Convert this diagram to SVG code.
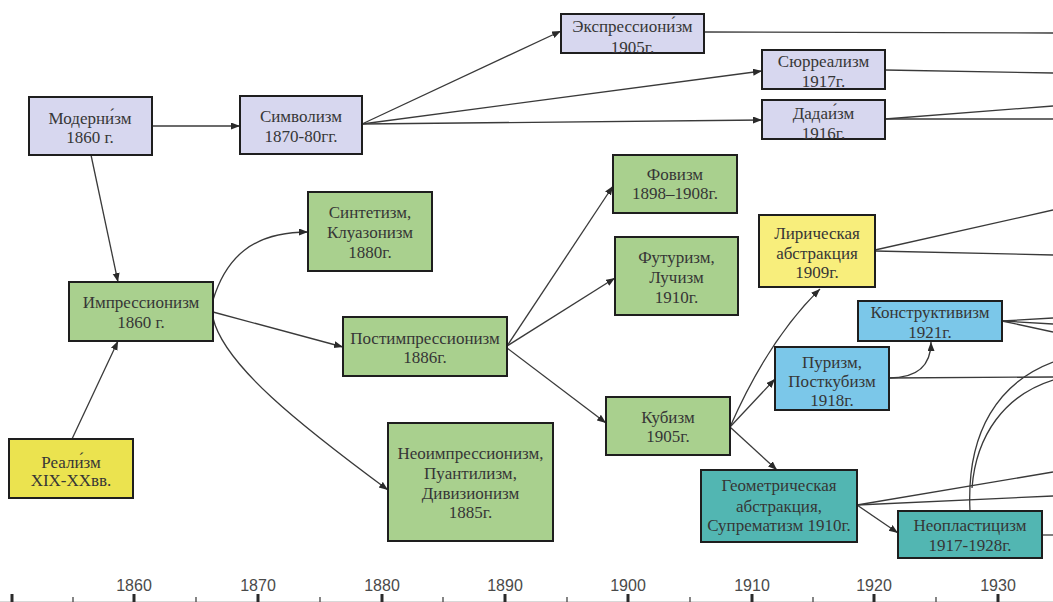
<svg xmlns="http://www.w3.org/2000/svg" width="1053" height="602" viewBox="0 0 1053 602">
<defs>
<marker id="ah" markerUnits="userSpaceOnUse" markerWidth="10" markerHeight="8" refX="9" refY="3.5" orient="auto">
<path d="M0,0 L9,3.5 L0,7 z" fill="#2a2a2a"/>
</marker>
<style>
.box{stroke:#1e1e1e;stroke-width:2}
.lav{fill:#d7d7ef}
.grn{fill:#a9d08e}
.yel{fill:#ebe34f}
.lyr{fill:#f8ee7c}
.blu{fill:#7bc7e9}
.tea{fill:#52b6b2}
text{font-family:"Liberation Serif","Times New Roman",serif;font-size:17px;fill:#363636;text-anchor:middle}
.c{fill:none;stroke:#3a3a3a;stroke-width:1.3}
.a{marker-end:url(#ah)}
.ax text{font-family:"Liberation Sans",Arial,sans-serif;font-size:16px;fill:#4a4a4a}
.maj{stroke:#2a2a2a;stroke-width:3}
.min{stroke:#444;stroke-width:1.3}
</style>
</defs>
<rect width="1053" height="602" fill="#ffffff"/>

<g id="connectors">
<line class="c a" x1="152" y1="126" x2="240" y2="126"/>
<line class="c a" x1="91" y1="155" x2="118" y2="282"/>
<line class="c a" x1="72" y1="439" x2="118" y2="341"/>
<line class="c a" x1="362" y1="124" x2="561" y2="31"/>
<line class="c a" x1="362" y1="124" x2="762" y2="71"/>
<line class="c a" x1="362" y1="124" x2="762" y2="120"/>
<line class="c" x1="704" y1="32" x2="1053" y2="33"/>
<line class="c" x1="885" y1="70" x2="1053" y2="73"/>
<line class="c" x1="885" y1="119" x2="1053" y2="106"/>
<line class="c" x1="885" y1="119" x2="1053" y2="119"/>
<path class="c a" d="M213,300 C226,258 252,232 308,232"/>
<line class="c a" x1="213" y1="312" x2="343" y2="347"/>
<path class="c a" d="M213,318 C224,365 300,425 388,490"/>
<line class="c a" x1="507" y1="346" x2="613" y2="186"/>
<line class="c a" x1="507" y1="346" x2="615" y2="278"/>
<line class="c a" x1="507" y1="348" x2="606" y2="423"/>
<path class="c a" d="M730,427 Q768,340 820,289"/>
<line class="c a" x1="730" y1="427" x2="775" y2="379"/>
<line class="c a" x1="730" y1="427" x2="777" y2="470"/>
<path class="c a" d="M889,378 C922,378 931,362 931,342"/>
<line class="c" x1="889" y1="378" x2="1053" y2="377"/>
<line class="c" x1="1002" y1="321" x2="1053" y2="318"/>
<line class="c" x1="1002" y1="321" x2="1053" y2="324"/>
<line class="c" x1="1002" y1="321" x2="1053" y2="332"/>
<line class="c" x1="875" y1="250" x2="1053" y2="210"/>
<line class="c" x1="875" y1="251" x2="1053" y2="255"/>
<line class="c a" x1="857" y1="505" x2="898" y2="533"/>
<line class="c" x1="857" y1="505" x2="1053" y2="472"/>
<line class="c" x1="857" y1="505" x2="1053" y2="496"/>
<line class="c" x1="1042" y1="535" x2="1053" y2="535"/>
<path class="c" d="M970,511 C966,430 1000,382 1053,362"/>
<path class="c" d="M972,488 C976,435 1005,395 1053,380"/>
</g>

<g id="modernism"><rect class="box lav" x="29" y="97" width="123" height="58"/><text x="90" y="123.5">Модерни́зм</text><text x="90" y="143">1860 г.</text></g>
<g id="symbolism"><rect class="box lav" x="240" y="96" width="122" height="58"/><text x="301" y="122">Символизм</text><text x="301" y="142">1870-80гг.</text></g>
<g id="expressionism"><rect class="box lav" x="561" y="14" width="143" height="39"/><text x="632.5" y="32">Экспрессиони́зм</text><text x="632.5" y="53">1905г.</text></g>
<g id="surrealism"><rect class="box lav" x="762" y="50" width="123" height="39"/><text x="823.5" y="67">Сюрреализм</text><text x="823.5" y="87">1917г.</text></g>
<g id="dadaism"><rect class="box lav" x="762" y="100" width="123" height="39"/><text x="823.5" y="119">Дадаи́зм</text><text x="823.5" y="139">1916г.</text></g>

<g id="synthetism"><rect class="box grn" x="308" y="192" width="124" height="79"/><text x="370" y="218">Синтетизм,</text><text x="370" y="238">Клуазонизм</text><text x="370" y="258">1880г.</text></g>
<g id="fauvism"><rect class="box grn" x="613" y="155" width="124" height="58"/><text x="675" y="180">Фовизм</text><text x="675" y="199">1898–1908г.</text></g>
<g id="futurism"><rect class="box grn" x="615" y="237" width="123" height="78"/><text x="676.5" y="263">Футуризм,</text><text x="676.5" y="283">Лучизм</text><text x="676.5" y="303">1910г.</text></g>
<g id="postimpressionism"><rect class="box grn" x="343" y="317" width="164" height="59"/><text x="425" y="344">Постимпрессионизм</text><text x="425" y="363">1886г.</text></g>
<g id="cubism"><rect class="box grn" x="606" y="397" width="124" height="58"/><text x="668" y="423">Кубизм</text><text x="668" y="442">1905г.</text></g>
<g id="neoimpressionism"><rect class="box grn" x="388" y="423" width="165" height="118"/><text x="470.5" y="459">Неоимпрессионизм,</text><text x="470.5" y="479">Пуантилизм,</text><text x="470.5" y="499">Дивизионизм</text><text x="470.5" y="518">1885г.</text></g>
<g id="impressionism"><rect class="box grn" x="69" y="282" width="144" height="59"/><text x="141" y="308">Импрессионизм</text><text x="141" y="328">1860 г.</text></g>

<g id="realism"><rect class="box yel" x="9" y="439" width="124" height="59"/><text x="71" y="467.5">Реали́зм</text><text x="71" y="486">XIX-XXвв.</text></g>
<g id="lyrical-abstraction"><rect class="box lyr" x="759" y="215" width="116" height="72"/><text x="817" y="239">Лирическая</text><text x="817" y="259">абстракция</text><text x="817" y="278">1909г.</text></g>

<g id="constructivism"><rect class="box blu" x="858" y="301" width="144" height="40"/><text x="930" y="318">Конструктивизм</text><text x="930" y="338">1921г.</text></g>
<g id="purism"><rect class="box blu" x="775" y="347" width="114" height="63"/><text x="832" y="368">Пуризм,</text><text x="832" y="387">Посткубизм</text><text x="832" y="406">1918г.</text></g>

<g id="geometric-abstraction"><rect class="box tea" x="701" y="470" width="156" height="72"/><text x="779" y="491">Геометрическая</text><text x="779" y="512">абстракция,</text><text x="779" y="531">Супрематизм 1910г.</text></g>
<g id="neoplasticism"><rect class="box tea" x="898" y="511" width="144" height="47"/><text x="970" y="531">Неопластицизм</text><text x="970" y="551">1917-1928г.</text></g>

<g id="timeline" class="ax">
<line x1="0" y1="601.5" x2="1053" y2="601.5" stroke="#d8d8d8" stroke-width="1"/>
<line class="maj" x1="12" y1="594" x2="12" y2="602"/>
<line class="min" x1="73" y1="597" x2="73" y2="602"/>
<line class="maj" x1="134" y1="594" x2="134" y2="602"/>
<line class="min" x1="196" y1="597" x2="196" y2="602"/>
<line class="maj" x1="258" y1="594" x2="258" y2="602"/>
<line class="min" x1="320" y1="597" x2="320" y2="602"/>
<line class="maj" x1="382" y1="594" x2="382" y2="602"/>
<line class="min" x1="443" y1="597" x2="443" y2="602"/>
<line class="maj" x1="505" y1="594" x2="505" y2="602"/>
<line class="min" x1="567" y1="597" x2="567" y2="602"/>
<line class="maj" x1="628" y1="594" x2="628" y2="602"/>
<line class="min" x1="690" y1="597" x2="690" y2="602"/>
<line class="maj" x1="752" y1="594" x2="752" y2="602"/>
<line class="min" x1="813" y1="597" x2="813" y2="602"/>
<line class="maj" x1="874" y1="594" x2="874" y2="602"/>
<line class="min" x1="936" y1="597" x2="936" y2="602"/>
<line class="maj" x1="998" y1="594" x2="998" y2="602"/>
<text x="134" y="591">1860</text>
<text x="258" y="591">1870</text>
<text x="382" y="591">1880</text>
<text x="505" y="591">1890</text>
<text x="628" y="591">1900</text>
<text x="752" y="591">1910</text>
<text x="874" y="591">1920</text>
<text x="998" y="591">1930</text>
</g>
</svg>
